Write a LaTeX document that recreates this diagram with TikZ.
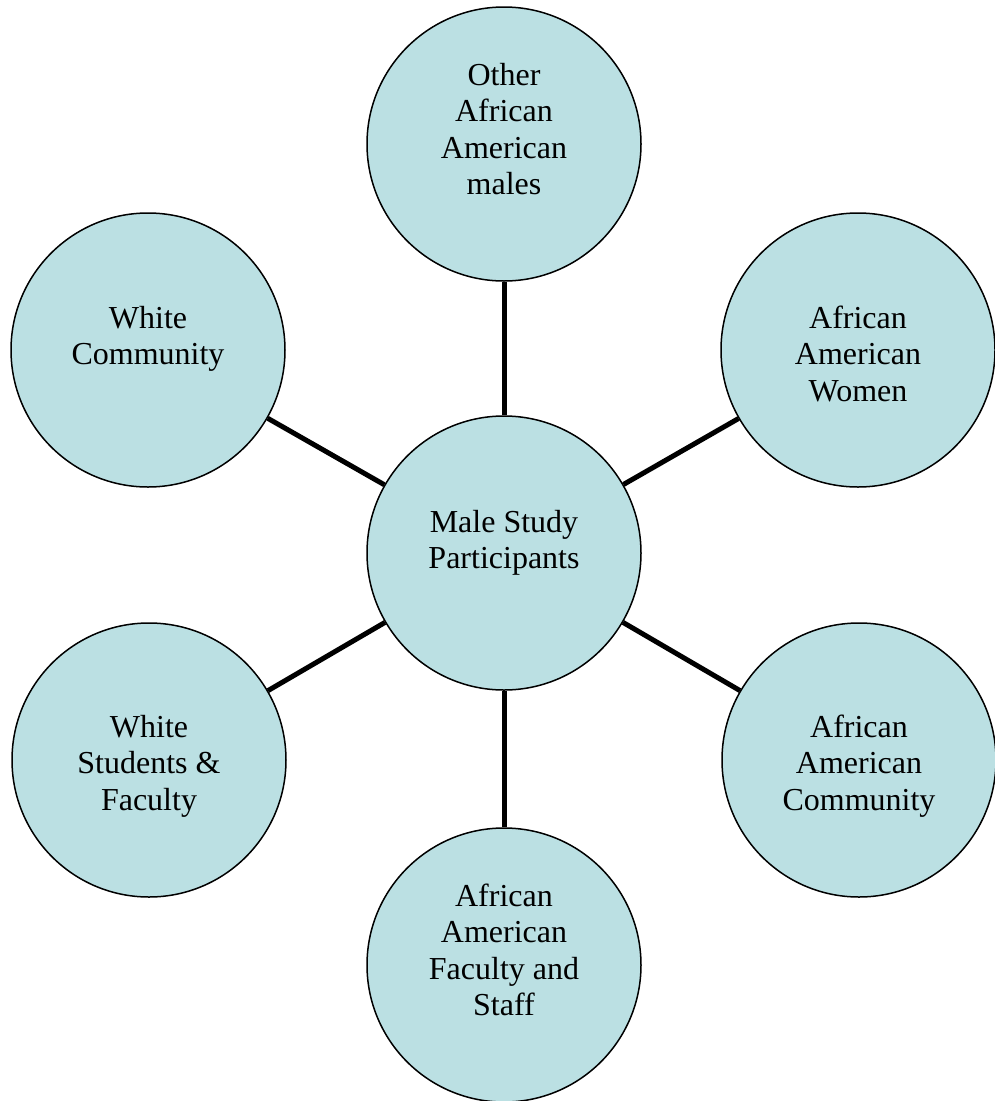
\documentclass[tikz,border=0pt]{standalone}
\usepackage{fontspec}
\setmainfont{Liberation Serif}
\definecolor{bubblefill}{RGB}{187,224,227}
\begin{document}
\begin{tikzpicture}[x=1pt,y=-1pt,
  bubble/.style={circle, draw=black, line width=1.5pt, fill=bubblefill,
    minimum size=274pt, inner sep=0pt},
  caption/.style={anchor=north, inner sep=0pt, align=center,
    font=\fontsize{32}{36.5}\selectfont},
  link/.style={line width=5pt}]
\useasboundingbox (0,0) rectangle (994,1101);

% circles
\node[bubble] (hub)    at (504,553) {};
\node[bubble] (males)  at (504,144) {};
\node[bubble] (women)  at (858,350) {};
\node[bubble] (whitec) at (148,350) {};
\node[bubble] (whites) at (149,760) {};
\node[bubble] (aacom)  at (859,760) {};
\node[bubble] (staff)  at (504,965) {};

% spokes
\draw[link] (hub) -- (males);
\draw[link] (hub) -- (women);
\draw[link] (hub) -- (whitec);
\draw[link] (hub) -- (whites);
\draw[link] (hub) -- (aacom);
\draw[link] (hub) -- (staff);

% texts
\node[caption] (hub-t)    at (504,506.5) {\strut Male Study\\\strut Participants};
\node[caption] (males-t)  at (504,59.5)  {\strut Other\\\strut African\\\strut American\\\strut males};
\node[caption] (women-t)  at (858,302.5) {\strut African\\\strut American\\\strut Women};
\node[caption] (whitec-t) at (148,302.5) {\strut White\\\strut Community};
\node[caption] (whites-t) at (149,711.5) {\strut White\\\strut Students \&\\\strut Faculty};
\node[caption] (aacom-t)  at (859,711.5) {\strut African\\\strut American\\\strut Community};
\node[caption] (staff-t)  at (504,880.5) {\strut African\\\strut American\\\strut Faculty and\\\strut Staff};
\end{tikzpicture}
\end{document}
